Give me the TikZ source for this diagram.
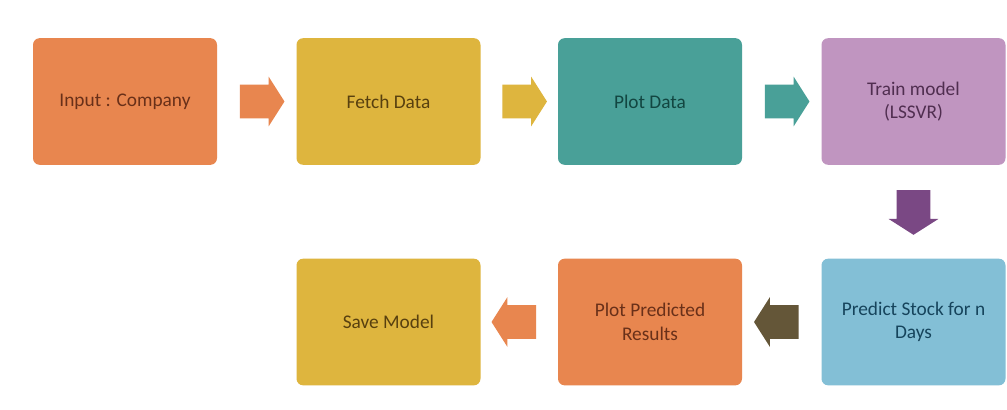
\documentclass[tikz,border=0pt]{standalone}
\usepackage{fontspec}
\setmainfont{Carlito}
\usepackage{tikz}
\usetikzlibrary{calc,shapes,positioning}
\usetikzlibrary{arrows}

\definecolor{boxorange}{RGB}{232,134,79}
\definecolor{boxyellow}{RGB}{222,181,62}
\definecolor{boxteal}{RGB}{73,160,152}
\definecolor{boxpurple}{RGB}{192,149,192}
\definecolor{boxblue}{RGB}{131,191,214}
\definecolor{txtorange}{RGB}{105,48,25}
\definecolor{txtyellow}{RGB}{88,64,15}
\definecolor{txtteal}{RGB}{18,70,65}
\definecolor{txtpurple}{RGB}{80,46,80}
\definecolor{txtblue}{RGB}{22,68,92}
\definecolor{arrowbrown}{RGB}{100,86,56}
\definecolor{arrowpurple}{RGB}{122,72,132}

\begin{document}
\begin{tikzpicture}[x=0.75pt,y=-0.75pt,
    stage/.style={rectangle,rounded corners=5pt,minimum width=138pt,minimum height=95pt,
      align=center,font=\fontsize{14.5}{17.5}\selectfont,inner sep=2pt},
    blockarrow/.style={single arrow,minimum height=28pt,inner sep=12.5pt,
      single arrow head extend=6pt,single arrow tip angle=115,draw=none}]
    \useasboundingbox (0,0) rectangle (1007,410);
    \fill[white] (0,0) rectangle (1007,410);
    % top row
    \node[stage,fill=boxorange,text=txtorange] (input) at (125,101.5) {Input : Company};
    \node[stage,fill=boxyellow,text=txtyellow] (fetch) at (388.5,101.5) {Fetch Data};
    \node[stage,fill=boxteal,text=txtteal] (plot) at (650,101.5) {Plot Data};
    \node[stage,fill=boxpurple,text=txtpurple] (train) at (913.5,101.5) {Train model\\(LSSVR)};
    % bottom row
    \node[stage,fill=boxblue,text=txtblue] (predict) at (913.5,322) {Predict Stock for n\\Days};
    \node[stage,fill=boxorange,text=txtorange] (plotpred) at (650,322) {Plot Predicted\\Results};
    \node[stage,fill=boxyellow,text=txtyellow] (save) at (388.5,322) {Save Model};
    % block arrows
    \node[blockarrow,fill=boxorange] (a1) at ($(input.east)!0.5!(fetch.west)$) {};
    \node[blockarrow,fill=boxyellow] (a2) at ($(fetch.east)!0.5!(plot.west)$) {};
    \node[blockarrow,fill=boxteal] (a3) at ($(plot.east)!0.5!(train.west)$) {};
    \node[blockarrow,fill=arrowpurple,shape border rotate=270] (a4) at ($(train.south)!0.45!(predict.north)$) {};
    \node[blockarrow,fill=arrowbrown,shape border rotate=180] (a5) at ($(predict.west)!0.5!(plotpred.east)$) {};
    \node[blockarrow,fill=boxorange,shape border rotate=180] (a6) at ($(plotpred.west)!0.5!(save.east)$) {};
\end{tikzpicture}
\end{document}
